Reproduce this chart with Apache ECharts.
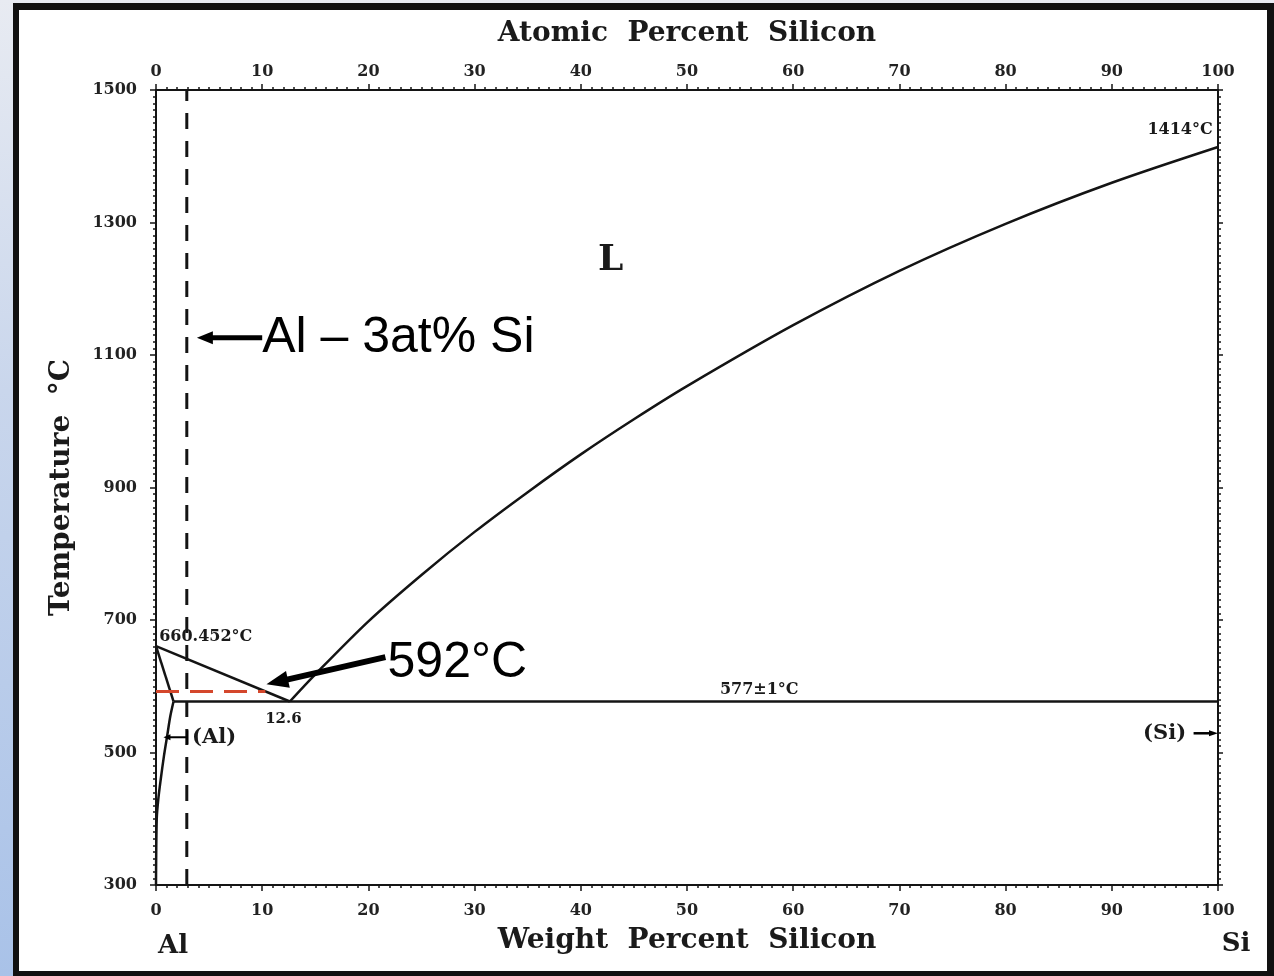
<!DOCTYPE html>
<html><head><meta charset="utf-8">
<script src="https://cdn.jsdelivr.net/npm/echarts@6/dist/echarts.min.js"></script>
<style>
html,body{margin:0;padding:0;width:1274px;height:976px;overflow:hidden;background:linear-gradient(to bottom,#e8ebf2 0%,#c9d6ec 40%,#a9c2e8 100%);}
#frame{position:absolute;left:13px;top:3px;width:1261px;height:973px;box-sizing:border-box;background:#fff;border-style:solid;border-color:#111;border-width:7px 7px 5px 6px;}
#c{position:absolute;left:0;top:0;width:1274px;height:976px;}
</style>
</head><body><div id="frame"></div><div id="c"></div>
<script>
// ---- data (weight percent Si vs temperature °C) ----
const weightTicks = [0,10,20,30,40,50,60,70,80,90,100];
const atomicTicks = [0,10,20,30,40,50,60,70,80,90,100];
const tempTicks = [300,500,700,900,1100,1300,1500];

const liqAlX = [0, 12.6];
const liqAlT = [660.452, 577];
const liqSiX = [12.6, 15, 20, 25, 30, 35, 40, 45, 50, 60, 70, 80, 90, 100];
const liqSiT = [577, 618, 698, 768, 833, 893, 950, 1003, 1053, 1145, 1227, 1298, 1360, 1414];
const solidusX = [0, 1.65];
const solidusT = [660.452, 577];
const solvusX = [1.65, 1.35, 1.05, 0.75, 0.45, 0.22, 0.07, 0];
const solvusT = [577, 555, 525, 495, 460, 430, 400, 300];
const eutecticX = [1.65, 100];
const eutecticT = [577, 577];
const alloyX = [2.9, 2.9];
const alloyT = [300, 1500];
const redX = [0, 10.3];
const redT = [592, 592];

const pairs = (xs, ts) => xs.map((x, i) => [x, ts[i]]);

const serif = 'DejaVu Serif';
const ink = '#141414';

const chart = echarts.init(document.getElementById('c'), null, {renderer: 'canvas'});

const baseX = (pos, names) => ({
  type: 'value', position: pos, min: 0, max: 100, interval: 10,
  axisLine: {show: true, onZero: false, lineStyle: {color: ink, width: 2}},
  axisTick: {show: true, length: 6, lineStyle: {color: ink, width: 1.5}},
  minorTick: {show: true, splitNumber: 10, length: 3, lineStyle: {color: ink, width: 1.5}},
  splitLine: {show: false},
  axisLabel: {show: true, fontFamily: serif, fontWeight: 'bold', fontSize: 16, color: '#222',
    margin: pos === 'top' ? 10 : 18,
    formatter: v => (names.indexOf(v) >= 0 ? String(v) : '')}
});

const lineSeries = (xs, ts, extra) => Object.assign({
  type: 'line', data: pairs(xs, ts), symbol: 'none', smooth: false, silent: true,
  lineStyle: {color: ink, width: 2.5}, z: 3
}, extra || {});

const option = {
  backgroundColor: 'transparent',
  animation: false,
  grid: {left: 156, right: 56, top: 90, bottom: 91, containLabel: false},
  xAxis: [
    Object.assign(baseX('bottom', weightTicks), {
      name: 'Weight  Percent  Silicon', nameLocation: 'middle', nameGap: 42,
      nameTextStyle: {fontFamily: serif, fontWeight: 'bold', fontSize: 28, color: '#1a1a1a'}
    }),
    Object.assign(baseX('top', atomicTicks), {
      name: 'Atomic  Percent  Silicon', nameLocation: 'middle', nameGap: 42,
      nameTextStyle: {fontFamily: serif, fontWeight: 'bold', fontSize: 28, color: '#1a1a1a'}
    })
  ],
  yAxis: [
    {
      type: 'value', position: 'left', min: 300, max: 1500, interval: 200,
      axisLine: {show: true, onZero: false, lineStyle: {color: ink, width: 2}},
      axisTick: {show: true, length: 6, lineStyle: {color: ink, width: 1.5}},
      minorTick: {show: true, splitNumber: 20, length: 3, lineStyle: {color: ink, width: 1.5}},
      splitLine: {show: false},
      axisLabel: {fontFamily: serif, fontWeight: 'bold', fontSize: 16, color: '#222', margin: 19,
        formatter: v => (tempTicks.indexOf(v) >= 0 ? String(v) : '')},
      name: 'Temperature  °C', nameLocation: 'middle', nameGap: 80, nameRotate: 90,
      nameTextStyle: {fontFamily: serif, fontWeight: 'bold', fontSize: 28, color: '#1a1a1a'}
    },
    {
      type: 'value', position: 'right', min: 300, max: 1500, interval: 200,
      axisLine: {show: true, onZero: false, lineStyle: {color: ink, width: 2}},
      axisTick: {show: true, length: 5, lineStyle: {color: ink, width: 1.5}},
      minorTick: {show: true, splitNumber: 20, length: 3, lineStyle: {color: ink, width: 1.5}},
      splitLine: {show: false},
      axisLabel: {show: false}
    }
  ],
  series: [
    lineSeries(alloyX, alloyT, {lineStyle: {color: ink, width: 3, type: [16, 12]}, z: 2}),
    lineSeries(redX, redT, {lineStyle: {color: '#d4472c', width: 3, type: [23, 11]}, z: 4}),
    lineSeries(liqAlX, liqAlT),
    lineSeries(liqSiX, liqSiT, {smooth: 0.3}),
    lineSeries(solidusX, solidusT),
    lineSeries(solvusX, solvusT, {smooth: 0.3}),
    lineSeries(eutecticX, eutecticT)
  ]
};
chart.setOption(option);

// ---- annotations, placed in data coordinates ----
const notes = [
  {text: 'L', x: 42.8, t: 1243, size: 36, align: 'center'},
  {text: '1414°C', x: 99.5, t: 1440, size: 16, align: 'right'},
  {text: '660.452°C', x: 0.3, t: 674, size: 16, align: 'left'},
  {text: '12.6', x: 12.0, t: 551, size: 15, align: 'center'},
  {text: '577±1°C', x: 56.8, t: 594, size: 16, align: 'center'},
  {text: '(Al)', x: 3.4, t: 523, size: 21, align: 'left'},
  {text: '(Si)', x: 97.0, t: 529, size: 21, align: 'right'},
  {text: 'Al', x: 1.6, t: 208, size: 26, align: 'center', family: serif},
  {text: 'Si', x: 101.7, t: 211, size: 26, align: 'center', family: serif},
  {text: 'Al – 3at% Si', x: 10.0, t: 1126, size: 50, align: 'left', family: 'Liberation Sans', weight: 'normal', color: '#000'},
  {text: '592°C', x: 21.8, t: 635, size: 50, align: 'left', family: 'Liberation Sans', weight: 'normal', color: '#000'}
];
const arrows = [
  {x0: 10.0, t0: 1126, x1: 3.85, t1: 1126, w: 5, head: 16, hw: 13},
  {x0: 21.6, t0: 644, x1: 10.4, t1: 603, w: 6, head: 22, hw: 17},
  {x0: 2.95, t0: 523, x1: 0.7, t1: 523, w: 2, head: 7, hw: 6},
  {x0: 97.7, t0: 529, x1: 100, t1: 529, w: 2.5, head: 9, hw: 6}
];
const px = (x, t) => chart.convertToPixel({gridIndex: 0}, [x, t]);
const graphics = [];
notes.forEach(n => {
  const p = px(n.x, n.t);
  graphics.push({
    type: 'text', x: p[0], y: p[1], z: 10, silent: true,
    style: {
      text: n.text, fill: n.color || '#1a1a1a', align: n.align, verticalAlign: 'middle',
      font: (n.weight || 'bold') + ' ' + n.size + 'px "' + (n.family || serif) + '"'
    }
  });
});
arrows.forEach(a => {
  const p0 = px(a.x0, a.t0), p1 = px(a.x1, a.t1);
  const dx = p1[0] - p0[0], dy = p1[1] - p0[1];
  const L = Math.sqrt(dx * dx + dy * dy), ux = dx / L, uy = dy / L;
  const bx = p1[0] - ux * a.head, by = p1[1] - uy * a.head;
  graphics.push({type: 'line', z: 10, silent: true,
    shape: {x1: p0[0], y1: p0[1], x2: bx + ux * 2, y2: by + uy * 2},
    style: {stroke: '#000', lineWidth: a.w}});
  graphics.push({type: 'polygon', z: 10, silent: true,
    shape: {points: [[p1[0], p1[1]], [bx - uy * a.hw / 2, by + ux * a.hw / 2], [bx + uy * a.hw / 2, by - ux * a.hw / 2]]},
    style: {fill: '#000'}});
});
// small bar at the tail of the (Al) arrow
(function () {
  const p = px(2.95, 523);
  graphics.push({type: 'line', z: 10, silent: true,
    shape: {x1: p[0], y1: p[1] - 7, x2: p[0], y2: p[1] + 7}, style: {stroke: '#000', lineWidth: 2}});
})();
chart.setOption({graphic: graphics});
</script>
</body></html>
